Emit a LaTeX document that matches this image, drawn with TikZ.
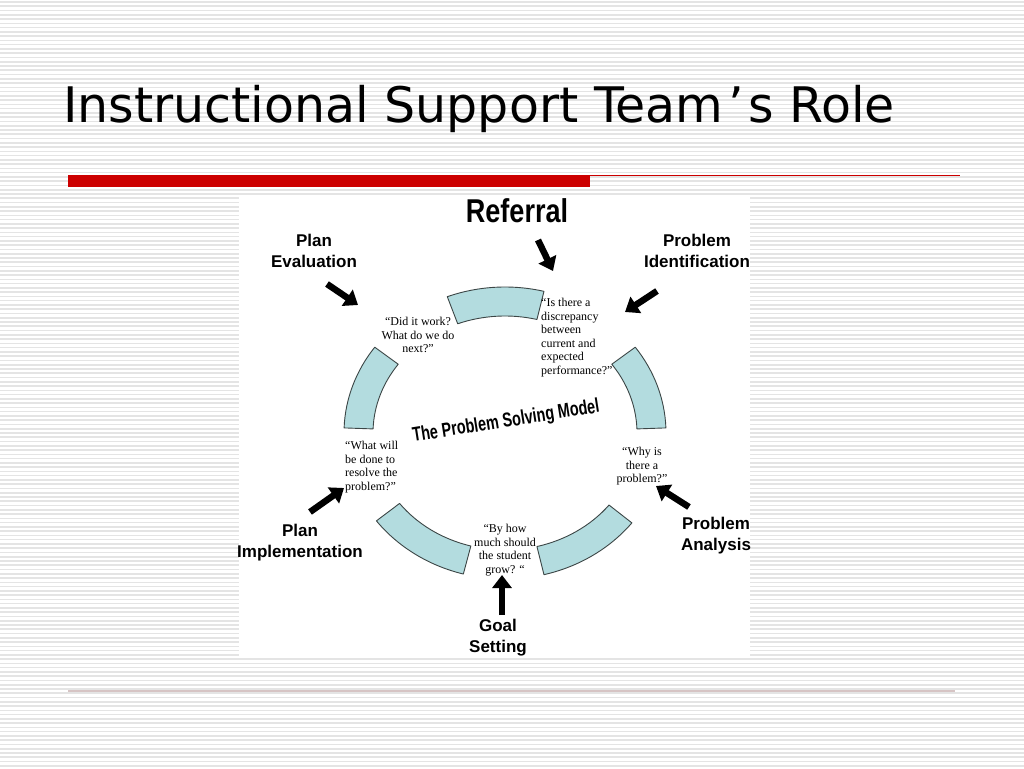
\documentclass[tikz,border=0pt]{standalone}
\usepackage{fontspec}
\setmainfont{Liberation Serif}
\newfontfamily\titlefont{DejaVu Sans}
\newfontfamily\labelfont{Liberation Sans}
\newfontfamily\narrowfont[FakeStretch=0.82]{Liberation Sans}
\newfontfamily\wordartfont[FakeStretch=0.72]{Liberation Sans}
\newfontfamily\quotefont{Liberation Serif}
\definecolor{slideRed}{HTML}{CC0000}
\definecolor{stripeGray}{HTML}{E4E4E4}
\definecolor{footLine}{HTML}{D6C4C4}
\definecolor{segFill}{HTML}{B3DCDF}
\definecolor{segLine}{HTML}{3C4646}
\usetikzlibrary{arrows.meta}
\begin{document}
\begin{tikzpicture}[x=1pt,y=-1pt,
  stripe/.style={stripeGray,line width=1.6pt},
  seg/.style={fill=segFill,draw=segLine,line width=0.9pt,line join=round},
  push/.style={black,line width=6.5pt,-{Triangle[length=13pt,width=19pt]}},
  stage/.style={font=\labelfont\bfseries\fontsize{17}{21}\selectfont,align=center,inner sep=0pt},
  quote/.style={font=\quotefont\fontsize{12}{13.6}\selectfont,inner sep=0pt}]
  \useasboundingbox (0,0) rectangle (1024,768);
  % slide background with stripes
  \fill[white] (0,0) rectangle (1024,768);
  \foreach \k in {0,...,179} \draw[stripe] (0,{\k*4.267+2}) -- (1024,{\k*4.267+2});
  \node[font=\titlefont\fontsize{49}{54}\selectfont,anchor=base west,inner sep=0pt] (title) at (63,122)
    {Instructional Support Team\hspace{5pt}’\hspace{4pt}s Role};
  \fill[slideRed] (68,175) rectangle (590,187);
  \draw[slideRed,line width=1.2pt] (590,175.6) -- (960,175.6);
  \draw[footLine,line width=1.2pt] (68,691) -- (955,691);
  % diagram panel
  \fill[white] (239,196) rectangle (750,658);
  \begin{scope}[shift={(505,433)},yscale=-1]
    \foreach \a/\b in {76/111,2/36,-76/-38,-143/-105,144/178}
      \draw[seg] (\a:161 and 146) arc[start angle=\a,end angle=\b,x radius=161,y radius=146]
        -- (\b:132 and 117) arc[start angle=\b,end angle=\a,x radius=132,y radius=117] -- cycle;
  \end{scope}
  \node[font=\narrowfont\bfseries\fontsize{33}{36}\selectfont,inner sep=0pt] (referral) at (517,211) {Referral};
  \node[font=\wordartfont\bfseries\fontsize{20}{22}\selectfont,rotate=9,inner sep=0pt] (model) at (506,422)
    {The Problem Solving Model};
  % stage labels
  \node[stage] (planEval) at (314,251) {Plan\\Evaluation};
  \node[stage] (probIdent) at (697,251) {Problem\\Identification};
  \node[stage] (probAnal) at (716,536) {Problem\\Analysis};
  \node[stage] (goalSet) at (498,638) {Goal\\Setting};
  \node[stage] (planImpl) at (300,543) {Plan\\Implementation};
  % questions
  \node[quote,align=center,anchor=north] (qEval) at (418,317) {“Did it work?\\What do we do\\next?”};
  \node[quote,align=left,anchor=north west] (qIdent) at (541,298)
    {“Is there a\\discrepancy\\between\\current and\\expected\\performance?”};
  \node[quote,align=center,anchor=north] (qAnal) at (642,447) {“Why is\\there a\\problem?”};
  \node[quote,align=center,anchor=north] (qGoal) at (505,524) {“By how\\much should\\the student\\grow? “};
  \node[quote,align=left,anchor=north west] (qImpl) at (345,441)
    {“What will\\be done to\\resolve the\\problem?”};
  % arrows into the cycle
  \coordinate (refFrom) at (538,240);  \coordinate (refTo) at (553,271);
  \coordinate (evalFrom) at (327,284); \coordinate (evalTo) at (358,305);
  \coordinate (identFrom) at (657,291); \coordinate (identTo) at (625,312);
  \coordinate (analFrom) at (689,507); \coordinate (analTo) at (656,486);
  \coordinate (goalFrom) at (502,615); \coordinate (goalTo) at (502,575);
  \coordinate (implFrom) at (310,512); \coordinate (implTo) at (344,488);
  \draw[push] (refFrom) -- (refTo);
  \draw[push] (evalFrom) -- (evalTo);
  \draw[push] (identFrom) -- (identTo);
  \draw[push] (analFrom) -- (analTo);
  \draw[push] (goalFrom) -- (goalTo);
  \draw[push] (implFrom) -- (implTo);
\end{tikzpicture}
\end{document}
